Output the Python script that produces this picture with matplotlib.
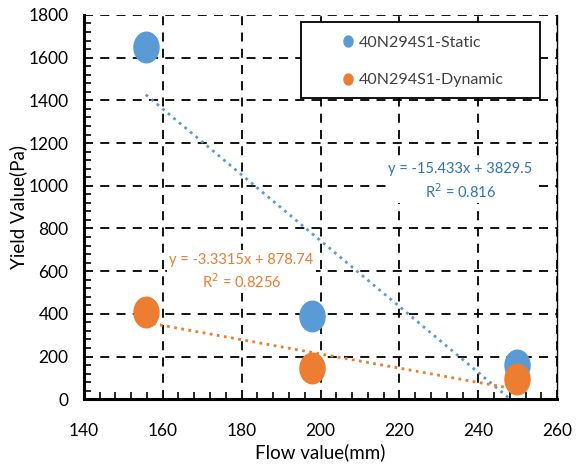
import numpy as np
import matplotlib
matplotlib.use('Agg')
from matplotlib import pyplot as plt
from matplotlib.patches import Rectangle
from matplotlib.ticker import MultipleLocator

plt.rcParams['font.family'] = ['Lato', 'DejaVu Sans']

# data
flow = [155.7, 197.8, 249.8]
static_yield = [1648, 388, 159]
dynamic_yield = [408, 145, 93]
series_names = ['40N294S1-Static', '40N294S1-Dynamic']
static_fit = (-15.433, 3829.5, 0.816)
dynamic_fit = (-3.3315, 878.74, 0.8256)

blue = '#5B9BD5'
orange = '#ED7D31'

# slightly tall ellipse marker like the original
t = np.linspace(0, 2 * np.pi, 60)
ellipse = np.column_stack([0.82 * np.cos(t), np.sin(t)])


def main():
    fig = plt.figure(figsize=(5.78, 4.67), dpi=100)
    ax = fig.add_axes([0.145, 0.145, 0.819, 0.823])

    ax.plot(flow, static_yield, linestyle='none', marker=ellipse,
            markersize=22, color=blue, label=series_names[0], zorder=4)
    ax.plot(flow, dynamic_yield, linestyle='none', marker=ellipse,
            markersize=22, color=orange, label=series_names[1], zorder=4)

    xs = np.array([min(flow), max(flow)])
    for (m, b, r2), c in [(static_fit, blue), (dynamic_fit, orange)]:
        ax.plot(xs, m * xs + b, linestyle=(0, (1, 1.6)), color=c,
                linewidth=2, zorder=3)

    ax.text(235.5, 1020, 'y = -15.433x + 3829.5\nR$^2$ = 0.816',
            color='#2E75B6', fontsize=10.5, ha='center', va='center',
            linespacing=1.35, zorder=5,
            bbox=dict(facecolor='white', edgecolor='none', pad=2))
    ax.text(180, 598, 'y = -3.3315x + 878.74\nR$^2$ = 0.8256',
            color=orange, fontsize=10.5, ha='center', va='center',
            linespacing=1.35, zorder=5,
            bbox=dict(facecolor='white', edgecolor='none', pad=2))

    ax.set_xlim(140, 260)
    ax.set_ylim(0, 1800)
    ax.xaxis.set_major_locator(MultipleLocator(20))
    ax.xaxis.set_minor_locator(MultipleLocator(4))
    ax.yaxis.set_major_locator(MultipleLocator(200))
    ax.yaxis.set_minor_locator(MultipleLocator(40))
    ax.grid(True, which='major', color='black', linestyle=(0, (5, 4)),
            linewidth=1.3, zorder=1)
    ax.set_axisbelow(True)

    ax.tick_params(which='both', direction='in', length=5, width=1.2,
                   labelsize=12.5, colors='black')
    ax.tick_params(axis='y', pad=11)
    ax.tick_params(axis='x', pad=17)
    ax.tick_params(which='major', length=0)
    for side in ['left', 'bottom']:
        ax.spines[side].set_linewidth(2.2)
    ax.spines['top'].set_visible(False)
    ax.spines['right'].set_linewidth(1)

    ax.set_xlabel('Flow value(mm)', fontsize=13.5, labelpad=3)
    ax.set_ylabel('Yield Value(Pa)', fontsize=13.5, labelpad=1)

    # legend: wide white box, entries placed inside it
    box = Rectangle((0.458, 0.784), 0.506, 0.198, transform=ax.transAxes,
                    facecolor='white', edgecolor='black', linewidth=1.3,
                    zorder=6)
    ax.add_patch(box)
    leg = ax.legend(loc='center left', bbox_to_anchor=(0.545, 0.879),
                    fontsize=11.5, markerscale=0.36, handlelength=0.8,
                    handletextpad=0.25, borderpad=0, labelspacing=1.45,
                    frameon=False, borderaxespad=0)
    for txt in leg.get_texts():
        txt.set_color('#404040')
    leg.set_zorder(7)

    fig.savefig('out.png', dpi=100)


if __name__ == '__main__':
    main()
